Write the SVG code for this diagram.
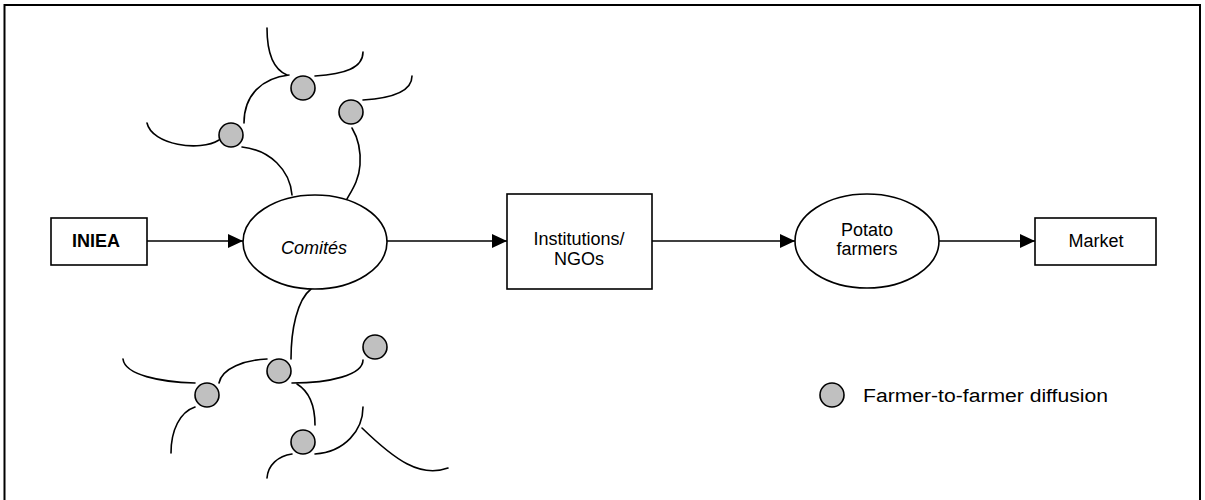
<svg xmlns="http://www.w3.org/2000/svg" width="1205" height="500" viewBox="0 0 1205 500">
  <defs>
    <marker id="arrow" viewBox="0 0 15 14" refX="15" refY="7" markerWidth="15" markerHeight="14" markerUnits="userSpaceOnUse" orient="auto">
      <path d="M0,0 L15,7 L0,14 Z" fill="#000"/>
    </marker>
    <style>
      .box { fill: #fff; stroke: #000; stroke-width: 1.6; }
      .lbl { font-family: "Liberation Sans", Arial, sans-serif; font-size: 18px; fill: #000; text-anchor: middle; }
      .edge { fill: none; stroke: #000; stroke-width: 1.6; marker-end: url(#arrow); }
      .link { fill: none; stroke: #000; stroke-width: 1.6; stroke-linecap: round; }
      .f2f { fill: #c0c0c0; stroke: #000; stroke-width: 1.6; }
    </style>
  </defs>

  <!-- outer frame -->
  <path d="M4.5,505 V5 H1200 V505" fill="none" stroke="#000" stroke-width="2"/>

  <!-- farmer-to-farmer branches above and below Comités -->
  <g id="diffusion-network">
    <path class="link" d="M267,28 C267,55 275,70 287,75"/>
    <path class="link" d="M315,76 C345,74 363,68 363,52"/>
    <path class="link" d="M289,75 C262,78 244,95 244,123"/>
    <path class="link" d="M147,123 C152,145 200,152 219,140"/>
    <path class="link" d="M242,147 C270,150 290,170 292,195"/>
    <path class="link" d="M363,100 C395,98 412,90 412,76"/>
    <path class="link" d="M352,128 C358,138 361,150 360,165 C359,180 352,190 347,199"/>

    <path class="link" d="M311,289 C297,300 291,330 291,359"/>
    <path class="link" d="M123,359 C125,375 160,382 195,383"/>
    <path class="link" d="M219,383 C222,368 245,360 267,359"/>
    <path class="link" d="M292,383 C330,383 363,375 363,360"/>
    <path class="link" d="M297,384 C310,392 315,408 315,425"/>
    <path class="link" d="M195,407 C180,412 171,430 171,453"/>
    <path class="link" d="M292,454 C278,456 268,465 267,478"/>
    <path class="link" d="M315,454 C345,452 363,430 363,407"/>
    <path class="link" d="M362,428 C395,460 420,478 448,468"/>

    <circle class="f2f" cx="303" cy="88" r="12"/>
    <circle class="f2f" cx="351" cy="112" r="12"/>
    <circle class="f2f" cx="231" cy="135" r="12"/>
    <circle class="f2f" cx="279" cy="371" r="12"/>
    <circle class="f2f" cx="375" cy="347" r="12"/>
    <circle class="f2f" cx="207" cy="395" r="12"/>
    <circle class="f2f" cx="303" cy="442" r="12"/>
  </g>

  <!-- main flow connectors -->
  <g id="connectors">
    <line class="edge" x1="147" y1="241" x2="243" y2="241"/>
    <line class="edge" x1="387" y1="241" x2="507" y2="241"/>
    <line class="edge" x1="652" y1="241" x2="795" y2="241"/>
    <line class="edge" x1="939" y1="241" x2="1035" y2="241"/>
  </g>

  <g id="iniea">
    <rect class="box" x="51" y="218" width="96" height="47"/>
    <text class="lbl" x="96" y="247" font-weight="bold">INIEA</text>
  </g>

  <g id="comites">
    <ellipse class="box" cx="315" cy="242" rx="72" ry="47"/>
    <text class="lbl" x="314" y="254" font-style="italic">Comités</text>
  </g>

  <g id="institutions">
    <rect class="box" x="507" y="194" width="145" height="95"/>
    <text class="lbl" x="579" y="245">Institutions/</text>
    <text class="lbl" x="579" y="265">NGOs</text>
  </g>

  <g id="potato-farmers">
    <ellipse class="box" cx="867" cy="241" rx="72" ry="47"/>
    <text class="lbl" x="867" y="236">Potato</text>
    <text class="lbl" x="867" y="255">farmers</text>
  </g>

  <g id="market">
    <rect class="box" x="1035" y="218" width="121" height="47"/>
    <text class="lbl" x="1096" y="247">Market</text>
  </g>

  <g id="legend">
    <circle class="f2f" cx="832" cy="395" r="12"/>
    <text class="lbl" x="863" y="402" text-anchor="start" textLength="245" lengthAdjust="spacingAndGlyphs" style="text-anchor:start">Farmer-to-farmer diffusion</text>
  </g>
</svg>
